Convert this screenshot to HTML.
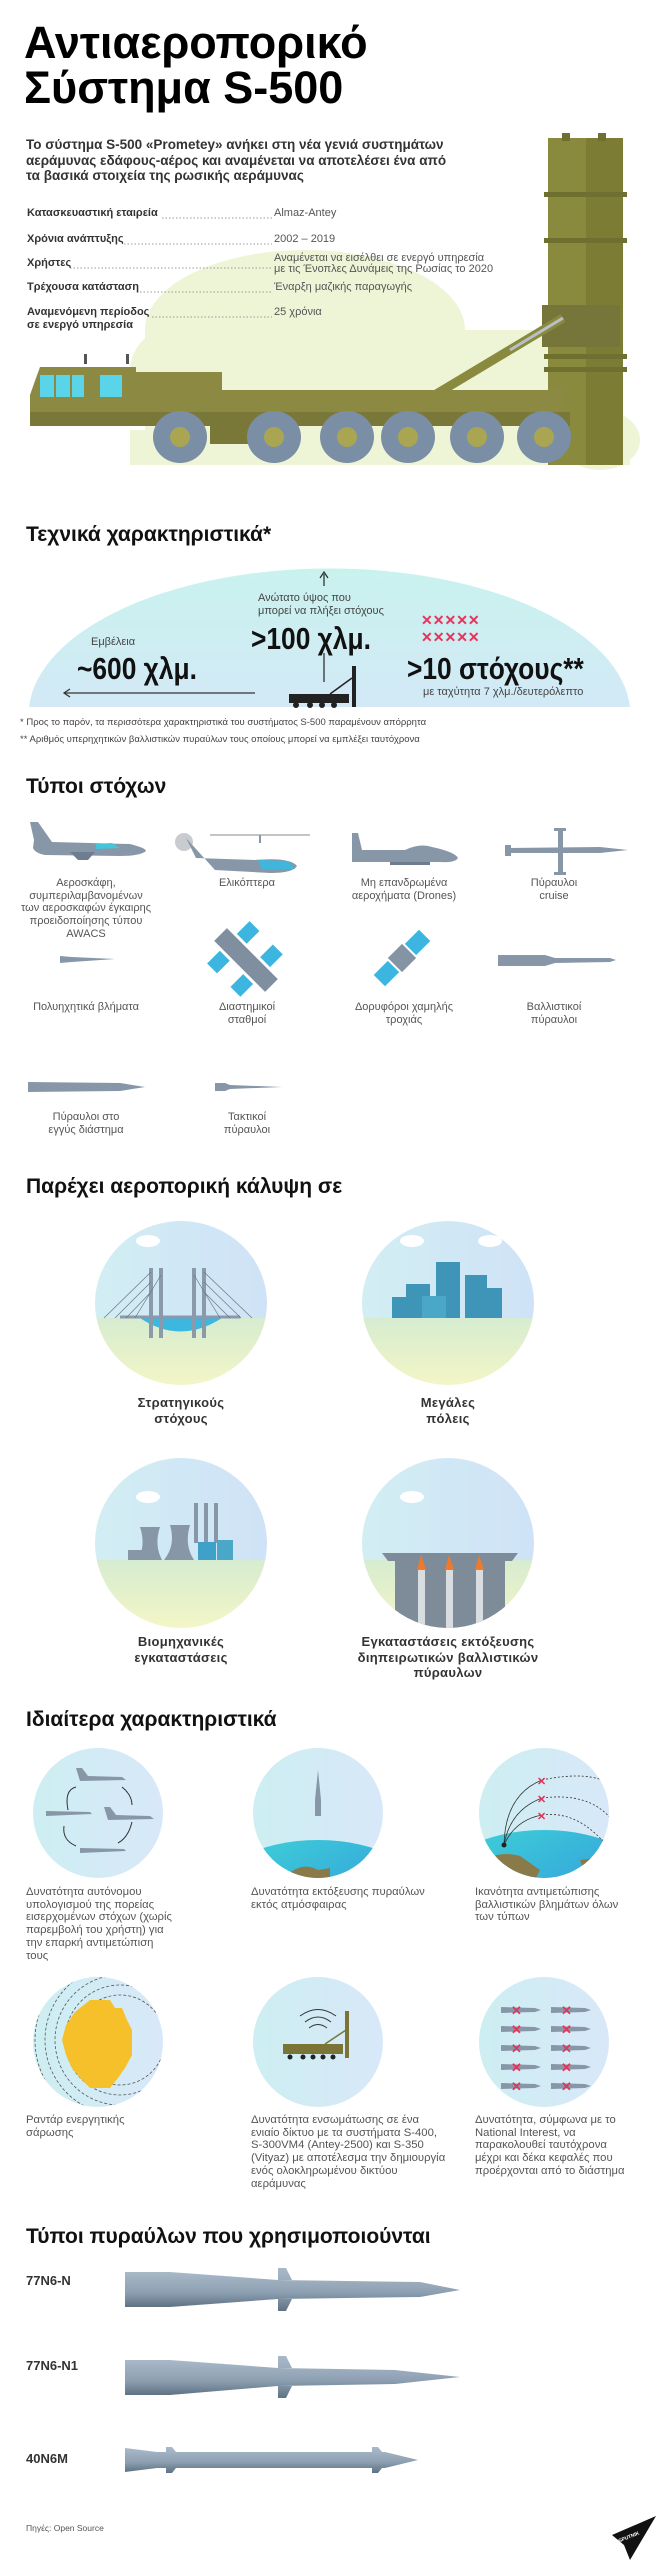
<!DOCTYPE html>
<html><head><meta charset="utf-8"><style>
*{margin:0;padding:0;box-sizing:border-box}
body{width:656px;height:2560px;position:relative;background:#fff;font-family:"Liberation Sans",sans-serif;color:#222;overflow:hidden}
.t{position:absolute;white-space:nowrap}
.h{font-weight:bold;font-size:21px;color:#111}
.lab{font-size:11px;font-weight:bold;color:#333}
.val{font-size:11px;color:#555;line-height:11px}
.c{text-align:center;font-size:11px;color:#555;line-height:12.7px;transform:translateX(-50%)}
.cb{text-align:center;font-size:13px;font-weight:bold;color:#333;line-height:15.5px;transform:translateX(-50%);letter-spacing:.3px}
.f{font-size:11.3px;color:#555;line-height:12.7px}
.n{font-family:"Liberation Sans Narrow","Liberation Sans",sans-serif;font-weight:bold;transform-origin:left center}
svg{position:absolute;left:0;top:0}
</style></head><body>
<svg width="656" height="2560" viewBox="0 0 656 2560">
<defs>
<linearGradient id="dome" x1="0" y1="0" x2="0" y2="1"><stop offset="0" stop-color="#c9f2ee"/><stop offset="1" stop-color="#d3e9f6"/></linearGradient>
<linearGradient id="ms" x1="0" y1="0" x2="0" y2="1"><stop offset="0" stop-color="#a9b9c8"/><stop offset=".6" stop-color="#8c9fb1"/><stop offset="1" stop-color="#5f7283"/></linearGradient>
<linearGradient id="sky" x1="0" y1="0" x2="1" y2="0"><stop offset="0" stop-color="#d2eef3"/><stop offset="1" stop-color="#cfe2f7"/></linearGradient>
<linearGradient id="gr" x1="0" y1="0" x2="0" y2="1"><stop offset="0" stop-color="#d6ecd0"/><stop offset="1" stop-color="#f4f6c6"/></linearGradient>
<linearGradient id="c4" x1="0" y1="0" x2="1" y2="0"><stop offset="0" stop-color="#cdeef2"/><stop offset="1" stop-color="#d8e8f8"/></linearGradient>
<linearGradient id="sea" x1="0" y1="0" x2="1" y2="1"><stop offset="0" stop-color="#3fd6d6"/><stop offset="1" stop-color="#2f86e0"/></linearGradient>
<clipPath id="o1"><ellipse cx="181" cy="1303" rx="86" ry="82"/></clipPath>
<clipPath id="o2"><ellipse cx="448" cy="1303" rx="86" ry="82"/></clipPath>
<clipPath id="o3"><ellipse cx="181" cy="1543" rx="86" ry="85"/></clipPath>
<clipPath id="o4"><ellipse cx="448" cy="1543" rx="86" ry="85"/></clipPath>
<clipPath id="k1"><ellipse cx="98" cy="1813" rx="65" ry="65"/></clipPath>
<clipPath id="k2"><ellipse cx="318" cy="1813" rx="65" ry="65"/></clipPath>
<clipPath id="k3"><ellipse cx="544" cy="1813" rx="65" ry="65"/></clipPath>
<clipPath id="k4"><ellipse cx="98" cy="2042" rx="65" ry="65"/></clipPath>
</defs>

<g fill="#eef5d6">
<ellipse cx="305" cy="330" rx="160" ry="80"/>
<rect x="145" y="330" width="470" height="135"/>
<ellipse cx="210" cy="370" rx="80" ry="55"/>
<ellipse cx="520" cy="400" rx="70" ry="50"/>
<ellipse cx="600" cy="440" rx="40" ry="30"/>
<rect x="130" y="430" width="500" height="35"/>
</g>
<g>
<rect x="548" y="138" width="38" height="327" fill="#8a8a3e"/>
<rect x="586" y="138" width="37" height="327" fill="#7c7c35"/>
<rect x="562" y="133" width="8" height="8" fill="#6f6f30"/><rect x="598" y="133" width="8" height="8" fill="#6f6f30"/>
<rect x="544" y="192" width="83" height="5" fill="#6f6f30"/>
<rect x="544" y="238" width="83" height="5" fill="#6f6f30"/>
<rect x="542" y="305" width="78" height="42" fill="#76763a"/>
<rect x="544" y="354" width="83" height="5" fill="#6f6f30"/>
<rect x="544" y="367" width="83" height="5" fill="#6f6f30"/>
</g>
<line x1="418" y1="405" x2="563" y2="318" stroke="#8a8a3e" stroke-width="9"/>
<line x1="510" y1="350" x2="563" y2="318" stroke="#b8bfc8" stroke-width="3"/>
<g fill="#8c8a42">
<path d="M36 378 L40 367 L136 367 L136 423 L30 423 L30 395 Z"/>
<rect x="136" y="372" width="86" height="52"/>
<rect x="136" y="390" width="430" height="35"/>
<rect x="30" y="412" width="540" height="14" fill="#7a7838"/>
<rect x="210" y="426" width="40" height="18" fill="#7a7838"/>
</g>
<rect x="40" y="375" width="14" height="22" fill="#5ad4e8"/><rect x="56" y="375" width="14" height="22" fill="#5ad4e8"/><rect x="72" y="375" width="12" height="22" fill="#5ad4e8"/><rect x="100" y="375" width="22" height="22" fill="#5ad4e8"/>
<rect x="84" y="354" width="3" height="10" fill="#555"/><rect x="126" y="354" width="3" height="10" fill="#555"/>
<g fill="#7a8ea5">
<ellipse cx="180" cy="437" rx="27" ry="26"/><ellipse cx="274" cy="437" rx="27" ry="26"/><ellipse cx="347" cy="437" rx="27" ry="26"/><ellipse cx="408" cy="437" rx="27" ry="26"/><ellipse cx="477" cy="437" rx="27" ry="26"/><ellipse cx="544" cy="437" rx="27" ry="26"/>
</g>
<g fill="#a9a552">
<circle cx="180" cy="437" r="10"/><circle cx="274" cy="437" r="10"/><circle cx="347" cy="437" r="10"/><circle cx="408" cy="437" r="10"/><circle cx="477" cy="437" r="10"/><circle cx="544" cy="437" r="10"/>
</g>
<g stroke="#999" stroke-width="1" stroke-dasharray="1.5 2">
<line x1="162" y1="218" x2="272" y2="218"/><line x1="124" y1="244" x2="272" y2="244"/><line x1="70" y1="268" x2="272" y2="268"/><line x1="140" y1="292" x2="272" y2="292"/><line x1="152" y1="317" x2="272" y2="317"/>
</g>

<path d="M29 707 A301 147 0 0 1 630 707 Z" fill="url(#dome)"/>
<line x1="324" y1="574" x2="324" y2="586" stroke="#333" stroke-width="1.3"/><path d="M320 578 L324 572 L328 578" fill="none" stroke="#333" stroke-width="1.3"/>
<line x1="324" y1="653" x2="324" y2="682" stroke="#333" stroke-width="1.3"/>
<line x1="65" y1="693" x2="255" y2="693" stroke="#333" stroke-width="1.3"/><path d="M70 689 L64 693 L70 697" fill="none" stroke="#333" stroke-width="1.3"/>
<g fill="#222"><rect x="289" y="694" width="60" height="9"/><rect x="352" y="666" width="4" height="41"/><line x1="330" y1="694" x2="352" y2="678" stroke="#222" stroke-width="1.5"/><circle cx="296" cy="705" r="3"/><circle cx="310" cy="705" r="3"/><circle cx="322" cy="705" r="3"/><circle cx="334" cy="705" r="3"/></g>
<g fill="#e8325a" font-family="Liberation Sans" font-weight="bold" font-size="14">
<text x="421" y="625">✕✕✕✕✕</text><text x="421" y="642">✕✕✕✕✕</text>
</g>

<g fill="#8797a8">
<path d="M30 822 L38 822 L52 842 L130 844 Q146 848 146 851 Q140 856 120 856 L45 855 Q35 853 33 848 L34 840 Z"/>
<path d="M96 844 L112 843 L120 848 L96 849 Z" fill="#43c5dc"/>
<path d="M70 852 L95 852 L88 860 L78 860 Z" fill="#6e7e90"/>
<circle cx="184" cy="842" r="9" fill="#c8ccd0"/>
<path d="M186 838 L196 858 L255 860 Q290 857 297 866 Q293 873 270 873 L215 870 Z"/>
<path d="M258 860 L288 861 L295 869 L262 869 Z" fill="#3fb6dc"/>
<line x1="210" y1="835" x2="310" y2="835" stroke="#888" stroke-width="1"/>
<rect x="259" y="835" width="2" height="8"/>
<path d="M352 833 L358 833 L362 850 L405 850 Q420 843 432 847 Q455 852 458 858 Q455 863 440 862 L352 862 Z"/>
<rect x="390" y="862" width="40" height="3" fill="#6e7e90"/>
<path d="M505 848 L600 847 L628 850 L600 853 L505 853 Z"/>
<rect x="505" y="845" width="6" height="11"/>
<rect x="558" y="828" width="5" height="47"/><rect x="554" y="828" width="12" height="3"/><rect x="554" y="872" width="12" height="3"/>
<path d="M60 956 L72 957 L115 959 L72 962 L60 963 Z"/>
<path d="M498 955 L545 955 L555 958 L610 958 L616 960 L610 962 L555 963 L545 966 L498 966 Z"/>
<path d="M28 1082 L120 1083 L145 1087 L120 1091 L28 1092 Z"/>
<path d="M215 1083 L225 1083 L230 1085 L282 1087 L230 1089 L225 1091 L215 1091 Z"/>
</g>
<g transform="translate(246 960) rotate(45)"><rect x="-36" y="-9" width="72" height="18" fill="#7f8fa0"/><rect x="-25" y="-30" width="14" height="18" fill="#3cb5e0"/><rect x="-25" y="12" width="14" height="18" fill="#3cb5e0"/><rect x="8" y="-30" width="14" height="18" fill="#3cb5e0"/><rect x="8" y="12" width="14" height="18" fill="#3cb5e0"/></g>
<g transform="translate(402 958) rotate(-45)"><rect x="-10" y="-10" width="20" height="20" fill="#8494a5"/><rect x="-32" y="-8" width="20" height="16" fill="#3cb5e0"/><rect x="12" y="-8" width="20" height="16" fill="#3cb5e0"/></g>

<g clip-path="url(#o1)"><rect x="90" y="1218" width="180" height="100" fill="url(#sky)"/><rect x="90" y="1318" width="180" height="70" fill="url(#gr)"/><path d="M140 1318 Q180 1345 222 1318 Z" fill="#3bb7e0"/>
<g stroke="#8a9aab" stroke-width="4"><line x1="151" y1="1268" x2="151" y2="1338"/><line x1="161" y1="1268" x2="161" y2="1338"/><line x1="194" y1="1268" x2="194" y2="1338"/><line x1="204" y1="1268" x2="204" y2="1338"/></g>
<line x1="120" y1="1317" x2="240" y2="1317" stroke="#8a9aab" stroke-width="3"/>
<g stroke="#6b7684" stroke-width=".7"><line x1="151" y1="1272" x2="104" y2="1318"/><line x1="151" y1="1282" x2="115" y2="1318"/><line x1="151" y1="1292" x2="126" y2="1318"/><line x1="161" y1="1275" x2="135" y2="1318"/><line x1="204" y1="1272" x2="252" y2="1318"/><line x1="204" y1="1282" x2="241" y2="1318"/><line x1="204" y1="1292" x2="230" y2="1318"/><line x1="194" y1="1275" x2="220" y2="1318"/></g>
<ellipse cx="148" cy="1241" rx="12" ry="6" fill="#fff"/></g>
<g clip-path="url(#o2)"><rect x="360" y="1218" width="180" height="100" fill="url(#sky)"/><rect x="360" y="1318" width="180" height="70" fill="url(#gr)"/>
<g fill="#3f95b8"><rect x="392" y="1297" width="28" height="21"/><rect x="406" y="1284" width="24" height="34"/><rect x="436" y="1262" width="24" height="56"/><rect x="465" y="1275" width="22" height="43"/><rect x="480" y="1288" width="22" height="30"/><rect x="422" y="1296" width="24" height="22" fill="#4aa7c8"/></g>
<ellipse cx="412" cy="1241" rx="12" ry="6" fill="#fff"/><ellipse cx="490" cy="1241" rx="12" ry="6" fill="#fff"/></g>
<g clip-path="url(#o3)"><rect x="90" y="1455" width="180" height="105" fill="url(#sky)"/><rect x="90" y="1560" width="180" height="70" fill="url(#gr)"/>
<g fill="#8797a8"><path d="M140 1527 L160 1527 Q154 1545 162 1560 L138 1560 Q146 1545 140 1527Z"/><path d="M170 1525 L190 1525 Q184 1545 194 1560 L164 1560 Q176 1545 170 1525Z"/><rect x="194" y="1503" width="4" height="40"/><rect x="204" y="1503" width="4" height="40"/><rect x="214" y="1503" width="4" height="40"/><rect x="128" y="1550" width="20" height="10"/></g>
<rect x="198" y="1542" width="18" height="18" fill="#3fa0c8"/><rect x="217" y="1540" width="16" height="20" fill="#4aa7c8"/>
<ellipse cx="148" cy="1497" rx="12" ry="6" fill="#fff"/></g>
<g clip-path="url(#o4)"><rect x="360" y="1455" width="180" height="105" fill="url(#sky)"/><rect x="360" y="1560" width="180" height="70" fill="url(#gr)"/>
<path d="M382 1553 L518 1553 L512 1561 L388 1561 Z" fill="#7e8c9a"/><rect x="395" y="1561" width="110" height="70" fill="#7e8c9a"/>
<g fill="#d8dde2"><rect x="418" y="1570" width="7" height="60"/><rect x="446" y="1570" width="7" height="60"/><rect x="476" y="1570" width="7" height="60"/></g>
<g fill="#f07a2a"><path d="M417 1570 L421 1555 L426 1570Z"/><path d="M445 1570 L449 1555 L454 1570Z"/><path d="M475 1570 L479 1555 L484 1570Z"/></g>
<ellipse cx="412" cy="1497" rx="12" ry="6" fill="#fff"/></g>

<g fill="url(#c4)"><circle cx="98" cy="1813" r="65"/><circle cx="318" cy="1813" r="65"/><circle cx="544" cy="1813" r="65"/><circle cx="98" cy="2042" r="65"/><circle cx="318" cy="2042" r="65"/><circle cx="544" cy="2042" r="65"/></g>
<g fill="#8797a8">
<path d="M76 1768 L82 1768 L88 1776 L122 1777 L126 1780 L80 1781 Z"/><path d="M104 1807 L110 1807 L116 1815 L150 1816 L154 1819 L108 1820 Z"/>
<path d="M46 1811 L90 1812 L92 1814 L46 1816 Z"/><path d="M80 1848 L124 1849 L126 1851 L80 1853 Z"/>
</g>
<g fill="none" stroke="#333" stroke-width="1"><path d="M68 1810 Q64 1790 76 1787"/><path d="M122 1787 Q132 1795 132 1805"/><path d="M132 1822 Q128 1838 118 1843"/><path d="M76 1846 Q62 1840 64 1826"/></g>
<g clip-path="url(#k2)"><ellipse cx="318" cy="1900" rx="110" ry="60" fill="url(#sea)"/><path d="M282 1880 Q300 1860 318 1870 L330 1868 L330 1880 L345 1890 L318 1900 L280 1900Z" fill="#8a7a4a"/></g>
<path d="M318 1770 L321 1800 L321 1816 L315 1816 L315 1800 Z" fill="#8797a8"/>
<g clip-path="url(#k3)"><ellipse cx="544" cy="1890" rx="110" ry="60" fill="url(#sea)"/><path d="M480 1862 Q500 1850 520 1856 L540 1870 L530 1890 L490 1900 L470 1890Z" fill="#8a7a4a"/><path d="M580 1860 L610 1856 L610 1900 L590 1890Z" fill="#8a7a4a"/>
<g fill="none" stroke="#333" stroke-width=".8" stroke-dasharray="2 2"><path d="M542 1780 Q590 1770 612 1785"/><path d="M542 1798 Q590 1792 612 1820"/><path d="M542 1815 Q580 1810 610 1850"/></g>
<g fill="none" stroke="#333" stroke-width=".8"><path d="M504 1845 Q505 1795 542 1780"/><path d="M504 1845 Q510 1810 542 1798"/><path d="M504 1845 Q515 1820 542 1815"/></g><circle cx="504" cy="1845" r="2.5" fill="#222"/></g>
<g fill="#e8325a" font-size="11" font-weight="bold" font-family="Liberation Sans"><text x="537" y="1785">✕</text><text x="537" y="1803">✕</text><text x="537" y="1820">✕</text></g>
<g clip-path="url(#k4)"><g fill="none" stroke="#555" stroke-width=".8" stroke-dasharray="3 2"><circle cx="120" cy="2040" r="45"/><circle cx="120" cy="2040" r="55"/><circle cx="120" cy="2040" r="65"/><circle cx="120" cy="2040" r="75"/><circle cx="120" cy="2040" r="85"/></g></g>
<path d="M90 2000 L110 2000 L115 2008 L122 2008 L127 2020 L132 2030 L132 2055 L125 2068 L118 2078 L110 2088 L90 2088 L80 2078 L72 2068 L66 2055 L62 2040 L66 2025 L75 2012 Z" fill="#f5c02a"/>
<g fill="none" stroke="#333" stroke-width="1"><path d="M305 2022 Q318 2012 331 2022"/><path d="M309 2028 Q318 2021 327 2028"/><path d="M300 2016 Q318 2003 336 2016"/></g>
<g fill="#7a7536"><rect x="283" y="2044" width="60" height="10"/><rect x="345" y="2011" width="4" height="47"/><line x1="325" y1="2044" x2="346" y2="2030" stroke="#7a7536" stroke-width="1.5"/></g>
<g fill="#222"><circle cx="290" cy="2057" r="2.5"/><circle cx="303" cy="2057" r="2.5"/><circle cx="313" cy="2057" r="2.5"/><circle cx="323" cy="2057" r="2.5"/><circle cx="333" cy="2057" r="2.5"/></g>
<g fill="#8797a8">
<path d="M501 2007 L535 2008 L541 2010 L535 2012 L501 2013Z"/><path d="M551 2007 L585 2008 L591 2010 L585 2012 L551 2013Z"/>
<path d="M501 2026 L535 2027 L541 2029 L535 2031 L501 2032Z"/><path d="M551 2026 L585 2027 L591 2029 L585 2031 L551 2032Z"/>
<path d="M501 2045 L535 2046 L541 2048 L535 2050 L501 2051Z"/><path d="M551 2045 L585 2046 L591 2048 L585 2050 L551 2051Z"/>
<path d="M501 2064 L535 2065 L541 2067 L535 2069 L501 2070Z"/><path d="M551 2064 L585 2065 L591 2067 L585 2069 L551 2070Z"/>
<path d="M501 2083 L535 2084 L541 2086 L535 2088 L501 2089Z"/><path d="M551 2083 L585 2084 L591 2086 L585 2088 L551 2089Z"/>
</g>
<g fill="#e8325a" font-size="13" font-weight="bold" font-family="Liberation Sans"><text x="511" y="2015">✕</text><text x="561" y="2015">✕</text><text x="511" y="2034">✕</text><text x="561" y="2034">✕</text><text x="511" y="2053">✕</text><text x="561" y="2053">✕</text><text x="511" y="2072">✕</text><text x="561" y="2072">✕</text><text x="511" y="2091">✕</text><text x="561" y="2091">✕</text></g>

<g fill="url(#ms)">
<path d="M125 2272 L170 2272 L278 2280 L420 2282 L460 2290 L420 2297 L278 2299 L170 2307 L125 2307Z"/>
<path d="M278 2268 L286 2268 L292 2280 L278 2280Z M278 2299 L292 2299 L286 2311 L278 2311Z"/>
<path d="M125 2360 L170 2360 L278 2368 L395 2370 L460 2377 L395 2384 L278 2386 L170 2395 L125 2395Z"/>
<path d="M278 2356 L286 2356 L292 2368 L278 2368Z M278 2386 L292 2386 L286 2398 L278 2398Z"/>
<path d="M125 2448 L157 2452 L385 2452 L418 2460 L385 2468 L157 2468 L125 2472Z"/>
<path d="M166 2447 L172 2447 L176 2452 L166 2452Z M166 2468 L176 2468 L172 2473 L166 2473Z M372 2447 L378 2447 L382 2452 L372 2452Z M372 2468 L382 2468 L378 2473 L372 2473Z"/>
</g>
<path d="M612 2535 L656 2516 L630 2560 L624 2545 Z" fill="#111"/>
<text x="618" y="2540" fill="#fff" font-size="5" font-weight="bold" transform="rotate(-22 625 2538)" font-family="Liberation Sans">SPUTNIK</text>
</svg>

<div class="t" style="left:24px;top:20px;font-size:45px;font-weight:bold;line-height:45px;color:#000">Αντιαεροπορικό<br>Σύστημα S-500</div>
<div class="t" style="left:26px;top:137px;font-size:13.5px;font-weight:bold;line-height:15.5px;color:#333">Το σύστημα S-500 «Prometey» ανήκει στη νέα γενιά συστημάτων<br>αεράμυνας εδάφους-αέρος και αναμένεται να αποτελέσει ένα από<br>τα βασικά στοιχεία της ρωσικής αεράμυνας</div>
<div class="t lab" style="left:27px;top:207px">Κατασκευαστική εταιρεία</div>
<div class="t lab" style="left:27px;top:233px">Χρόνια ανάπτυξης</div>
<div class="t lab" style="left:27px;top:257px">Χρήστες</div>
<div class="t lab" style="left:27px;top:281px">Τρέχουσα κατάσταση</div>
<div class="t lab" style="left:27px;top:306px;line-height:13px">Αναμενόμενη περίοδος<br>σε ενεργό υπηρεσία</div>
<div class="t val" style="left:274px;top:208px">Almaz-Antey</div>
<div class="t val" style="left:274px;top:234px">2002 – 2019</div>
<div class="t val" style="left:274px;top:253px">Αναμένεται να εισέλθει σε ενεργό υπηρεσία<br>με τις Ένοπλες Δυνάμεις της Ρωσίας το 2020</div>
<div class="t val" style="left:274px;top:282px">Έναρξη μαζικής παραγωγής</div>
<div class="t val" style="left:274px;top:307px">25 χρόνια</div>

<div class="t h" style="left:26px;top:523px">Τεχνικά χαρακτηριστικά*</div>
<div class="t" style="left:258px;top:592px;font-size:11px;color:#444;line-height:12.5px">Ανώτατο ύψος που<br>μπορεί να πλήξει στόχους</div>
<div class="t n" style="left:251px;top:621px;font-size:31px;color:#111;transform:scaleX(.85)">&gt;100 χλμ.</div>
<div class="t" style="left:91px;top:636px;font-size:11px;color:#444">Εμβέλεια</div>
<div class="t n" style="left:77px;top:651px;font-size:31px;color:#111;transform:scaleX(.85)">~600 χλμ.</div>
<div class="t n" style="left:407px;top:651px;font-size:31px;color:#111;transform:scaleX(.85)">&gt;10 στόχους**</div>
<div class="t" style="left:423px;top:686px;font-size:11px;color:#444">με ταχύτητα 7 χλμ./δευτερόλεπτο</div>
<div class="t" style="left:20px;top:717px;font-size:9.5px;color:#444">* Προς το παρόν, τα περισσότερα χαρακτηριστικά του συστήματος S-500 παραμένουν απόρρητα</div>
<div class="t" style="left:20px;top:734px;font-size:9.5px;color:#444">** Αριθμός υπερηχητικών βαλλιστικών πυραύλων τους οποίους μπορεί να εμπλέξει ταυτόχρονα</div>

<div class="t h" style="left:26px;top:775px">Τύποι στόχων</div>
<div class="t c" style="left:86px;top:877px">Αεροσκάφη,<br>συμπεριλαμβανομένων<br>των αεροσκαφών έγκαιρης<br>προειδοποίησης τύπου<br>AWACS</div>
<div class="t c" style="left:247px;top:877px">Ελικόπτερα</div>
<div class="t c" style="left:404px;top:877px">Μη επανδρωμένα<br>αεροχήματα (Drones)</div>
<div class="t c" style="left:554px;top:877px">Πύραυλοι<br>cruise</div>
<div class="t c" style="left:86px;top:1001px">Πολυηχητικά βλήματα</div>
<div class="t c" style="left:247px;top:1001px">Διαστημικοί<br>σταθμοί</div>
<div class="t c" style="left:404px;top:1001px">Δορυφόροι χαμηλής<br>τροχιάς</div>
<div class="t c" style="left:554px;top:1001px">Βαλλιστικοί<br>πύραυλοι</div>
<div class="t c" style="left:86px;top:1111px">Πύραυλοι στο<br>εγγύς διάστημα</div>
<div class="t c" style="left:247px;top:1111px">Τακτικοί<br>πύραυλοι</div>

<div class="t h" style="left:26px;top:1175px">Παρέχει αεροπορική κάλυψη σε</div>
<div class="t cb" style="left:181px;top:1395px">Στρατηγικούς<br>στόχους</div>
<div class="t cb" style="left:448px;top:1395px">Μεγάλες<br>πόλεις</div>
<div class="t cb" style="left:181px;top:1634px">Βιομηχανικές<br>εγκαταστάσεις</div>
<div class="t cb" style="left:448px;top:1634px">Εγκαταστάσεις εκτόξευσης<br>διηπειρωτικών βαλλιστικών<br>πύραυλων</div>

<div class="t h" style="left:26px;top:1708px">Ιδιαίτερα χαρακτηριστικά</div>
<div class="t f" style="left:26px;top:1886px">Δυνατότητα αυτόνομου<br>υπολογισμού της πορείας<br>εισερχομένων στόχων (χωρίς<br>παρεμβολή του χρήστη) για<br>την επαρκή αντιμετώπιση<br>τους</div>
<div class="t f" style="left:251px;top:1886px">Δυνατότητα εκτόξευσης πυραύλων<br>εκτός ατμόσφαιρας</div>
<div class="t f" style="left:475px;top:1886px">Ικανότητα αντιμετώπισης<br>βαλλιστικών βλημάτων όλων<br>των τύπων</div>
<div class="t f" style="left:26px;top:2114px">Ραντάρ ενεργητικής<br>σάρωσης</div>
<div class="t f" style="left:251px;top:2114px">Δυνατότητα ενσωμάτωσης σε ένα<br>ενιαίο δίκτυο με τα συστήματα S-400,<br>S-300VM4 (Antey-2500) και S-350<br>(Vityaz) με αποτέλεσμα την δημιουργία<br>ενός ολοκληρωμένου δικτύου<br>αεράμυνας</div>
<div class="t f" style="left:475px;top:2114px">Δυνατότητα, σύμφωνα με το<br>National Interest, να<br>παρακολουθεί ταυτόχρονα<br>μέχρι και δέκα κεφαλές που<br>προέρχονται από το διάστημα</div>

<div class="t h" style="left:26px;top:2225px">Τύποι πυραύλων που χρησιμοποιούνται</div>
<div class="t" style="left:26px;top:2273px;font-size:13px;font-weight:bold;color:#333">77N6-N</div>
<div class="t" style="left:26px;top:2358px;font-size:13px;font-weight:bold;color:#333">77N6-N1</div>
<div class="t" style="left:26px;top:2451px;font-size:13px;font-weight:bold;color:#333">40N6M</div>
<div class="t" style="left:26px;top:2523px;font-size:8.5px;color:#555">Πηγές: Open Source</div>
</body></html>
